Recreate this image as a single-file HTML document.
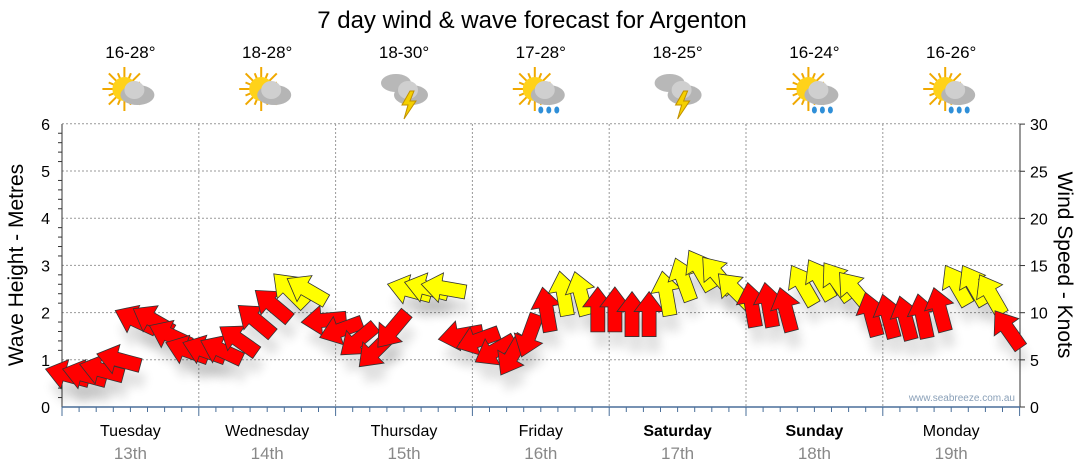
<!DOCTYPE html>
<html><head><meta charset="utf-8"><style>
body{margin:0;background:#fff;font-family:"Liberation Sans","DejaVu Sans",sans-serif;}
svg{display:block}
</style></head><body>
<svg id="chart" width="1080" height="475" xmlns="http://www.w3.org/2000/svg">
<defs><filter id="sh" x="-50%" y="-50%" width="200%" height="200%"><feGaussianBlur stdDeviation="5"/></filter></defs>
<text x="532" y="28" text-anchor="middle" font-size="24" fill="#000">7 day wind &amp; wave forecast for Argenton</text>
<g id="grid"></g><g id="axes"></g><g id="icons"></g><g id="shadows"></g><g id="arrows"></g>
<text x="23" y="265" transform="rotate(-90 23 265)" text-anchor="middle" font-size="21">Wave Height - Metres</text>
<text x="1058" y="265" transform="rotate(90 1058 265)" text-anchor="middle" font-size="21">Wind Speed - Knots</text>
<text x="1015" y="401" text-anchor="end" font-size="10" fill="#8aa0b8">www.seabreeze.com.au</text>
</svg>
<script>
const days=["Tuesday","Wednesday","Thursday","Friday","Saturday","Sunday","Monday"];
const dates=["13th","14th","15th","16th","17th","18th","19th"];
const temps=["16-28°","18-28°","18-30°","17-28°","18-25°","16-24°","16-26°"];
const icons=["suncloud","suncloud","storm","rain","storm","rain","rain"];
const waveTicks=[0,1,2,3,4,5,6];
const windTicks=[0,5,10,15,20,25,30];
// hours from start, wind knots, direction (deg, 0 = arrow pointing up)
const hours=[1,4,7,10,13,16,19,22,25,28,31,34,37,40,43,46,49,52,55,58,61,64,67,70,73,76,79,82,85,88,91,94,97,100,103,106,109,112,115,118,121,124,127,130,133,136,139,142,145,148,151,154,157,160,163,166];
const windKn=[3.4,3.4,3.9,5.0,9.2,9.2,7.6,6.0,6.0,6.0,7.1,9.2,10.8,12.4,12.4,9.2,8.2,7.1,6.0,8.2,12.4,12.6,12.6,7.6,7.1,6.0,5.5,7.6,10.3,12.0,12.0,10.3,10.3,9.8,9.8,12.0,13.5,14.5,14.0,12.4,10.8,10.8,10.3,12.9,13.5,13.3,12.4,9.8,9.6,9.4,9.6,10.3,12.9,12.9,11.9,8.2];
const windDir=[-75,-75,-75,-75,-65,-60,-65,-70,-70,-65,-55,-50,-50,-45,-60,-95,-110,-130,-135,-140,-75,-75,-80,-100,-110,-120,-150,-160,-10,-10,-15,0,0,0,0,-10,-20,-30,-40,-45,-10,-10,-15,-30,-30,-35,-40,-15,-15,-15,-12,-15,-30,-30,-30,-35];
const X0=62,DW=136.8,Y0=407;
const xs=h=>X0+h*DW/24, yw=m=>Y0-m*47.2, yk=k=>Y0-k*9.43;
const NS="http://www.w3.org/2000/svg";
function mk(t,a,p){const e=document.createElementNS(NS,t);for(const k in a)e.setAttribute(k,a[k]);p.appendChild(e);return e;}
const grid=document.getElementById('grid'),axes=document.getElementById('axes'),ic=document.getElementById('icons');
waveTicks.forEach(v=>{
 if(v>0){const g=mk('line',{x1:X0,x2:1020,y1:yw(v),y2:yw(v),stroke:'#999','stroke-dasharray':'2,2'},grid);
 
 }
 const t=mk('text',{x:50,y:yw(v)+6,'text-anchor':'end','font-size':16},axes);t.textContent=v;
 
 
 for(let i=1;i<5&&v<6;i++)mk('line',{x1:X0-4,x2:X0,y1:yw(v+i*0.2),y2:yw(v+i*0.2),stroke:'#333'},axes);
});
windTicks.forEach(v=>{
 const t=mk('text',{x:1030,y:yk(v)+6,'font-size':16},axes);t.textContent=v;
 
 
 mk('line',{x1:1020,x2:1025,y1:yk(v),y2:yk(v),stroke:'#333'},axes);
});
mk('line',{x1:X0,x2:X0,y1:124,y2:Y0,stroke:'#333'},axes);
mk('line',{x1:1020,x2:1020,y1:124,y2:Y0,stroke:'#333'},axes);
mk('line',{x1:X0,x2:1020,y1:Y0,y2:Y0,stroke:'#4a6f9a','stroke-width':1.5},axes);
for(let h=0;h<=168;h+=3){mk('line',{x1:xs(h),x2:xs(h),y1:Y0,y2:Y0+(h%24?5:9),stroke:'#4a6f9a'},axes);}
function icon(cx,cy,type,p){
 const g=mk('g',{},p);
 if(type!=='storm'){
  for(let i=0;i<16;i++){const a=i*Math.PI/8;mk('line',{x1:cx-6+Math.cos(a)*10,y1:cy-4+Math.sin(a)*10,x2:cx-6+Math.cos(a)*(i%2?17:22),y2:cy-4+Math.sin(a)*(i%2?17:22),stroke:'#f0a800','stroke-width':2},g);}
  mk('circle',{cx:cx-6,cy:cy-4,r:12,fill:'#ffd21a'},g);
 } else {
  mk('ellipse',{cx:cx-8,cy:cy-10,rx:15,ry:9,fill:'#b8b8b8'},g);
 }
 mk('ellipse',{cx:cx+7,cy:cy+2,rx:17,ry:10,fill:'#b5b5b5'},g);
 mk('ellipse',{cx:cx+4,cy:cy-3,rx:10,ry:9,fill:'#cfcfcf'},g);
 if(type==='storm')mk('polygon',{points:`${cx+6},${cy-2} ${cx-2},${cy+12} ${cx+4},${cy+12} ${cx},${cy+26} ${cx+12},${cy+8} ${cx+6},${cy+8} ${cx+10},${cy-2}`,fill:'#f5d000',stroke:'#c09000'},g);
 if(type==='rain')for(let i=0;i<3;i++)mk('ellipse',{cx:cx+i*8,cy:cy+17,rx:2.5,ry:3.5,fill:'#2f8fd8'},g);
 return g;
}
days.forEach((d,i)=>{
 const cx=X0+DW*(i+0.5);
 if(i>0){const g=mk('line',{x1:X0+DW*i,x2:X0+DW*i,y1:124,y2:Y0,stroke:'#999','stroke-dasharray':'2,2'},grid);
 
 }
 const t=mk('text',{x:cx,y:436,'text-anchor':'middle','font-size':16,'font-weight':(i===4||i===5)?'bold':'normal'},axes);t.textContent=d;
 
 
 const t2=mk('text',{x:cx,y:459,'text-anchor':'middle','font-size':17,fill:'#888'},axes);t2.textContent=dates[i];
 
 
 const t3=mk('text',{x:cx,y:58,'text-anchor':'middle','font-size':17},axes);t3.textContent=temps[i];
 
 
 const g=icon(cx,93,icons[i],ic);
 
 
});
const ag=document.getElementById('arrows'),sg=document.getElementById('shadows');
const shape="M0,-23 L-15,-3 L-7,-3 L-7,22 L7,22 L7,-3 L15,-3 Z";
hours.forEach((h,i)=>{
 const x=xs(h),y=yk(windKn[i]);
 mk('path',{d:shape,transform:`translate(${x+4},${y+16}) rotate(${windDir[i]})`,fill:'#000',opacity:0.12,filter:'url(#sh)'},sg);
 const p=mk('path',{d:shape,transform:`translate(${x},${y}) rotate(${windDir[i]})`,fill:windKn[i]>=11.6?'#ffff00':'#ff0000',stroke:'#333','stroke-width':0.8},ag);
 
 
});
</script>
</body></html>
